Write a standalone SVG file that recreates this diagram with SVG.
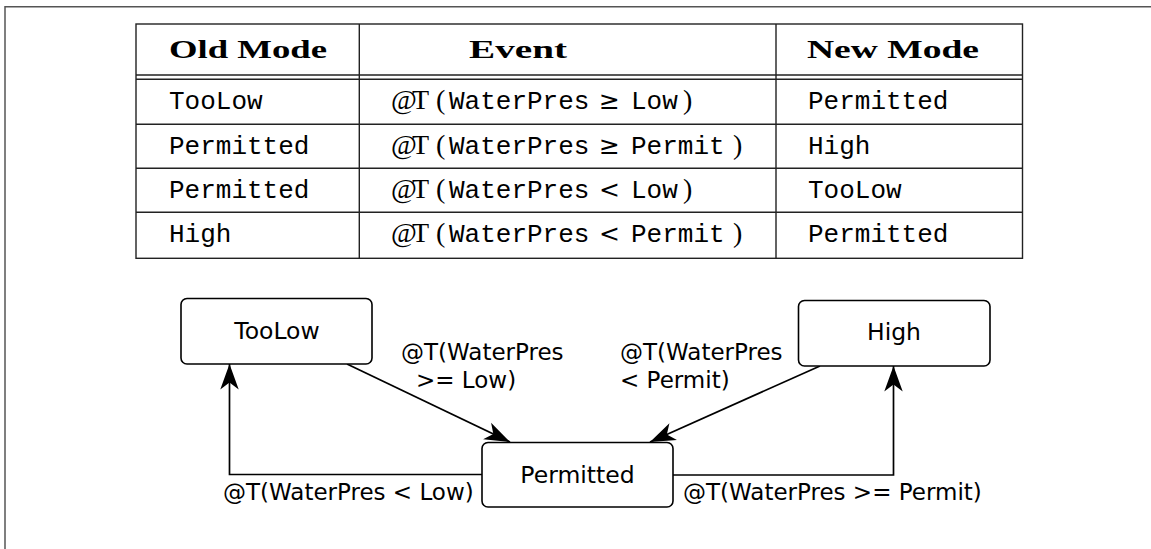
<svg xmlns="http://www.w3.org/2000/svg" width="1151" height="549" viewBox="0 0 1151 549">
<style>
.frame{stroke:#555;stroke-width:1.5;fill:none}
.tbl{stroke:#222;stroke-width:1.4;fill:none}
.hd{font-family:"Liberation Serif",serif;font-weight:bold;font-size:26px;fill:#000}
.tt{font-family:"Liberation Mono",monospace;font-size:26px;fill:#000}
.rm{font-family:"Liberation Serif",serif;font-size:28px;fill:#000}
.op{font-family:"DejaVu Sans",sans-serif;font-size:25px;fill:#000}
.node rect{fill:#fff;stroke:#000;stroke-width:1.6}
.node text{font-family:"DejaVu Sans",sans-serif;font-size:23.5px;fill:#000;text-anchor:middle}
.lbl{font-family:"DejaVu Sans",sans-serif;font-size:23px;fill:#000}
.edge{stroke:#000;stroke-width:1.7;fill:none;marker-end:url(#arr)}
</style>
<defs>
<marker id="arr" markerUnits="userSpaceOnUse" markerWidth="30" markerHeight="24" viewBox="-24 -10 26 20" refX="0" refY="0" orient="auto">
<path d="M0,0 L-22,-8 L-16,0 L-22,8 Z" fill="#000"/>
</marker>
</defs>
<rect width="1151" height="549" fill="#fff"/>
<path class="frame" d="M5,549 V6.7 H1151"/>
<g id="table">
<rect class="tbl" x="136" y="24" width="886.5" height="234.3"/>
<path class="tbl" d="M136,75 H1022.5 M136,79.3 H1022.5 M136,124.3 H1022.5 M136,168.3 H1022.5 M136,212.3 H1022.5 M359.3,24 V258.3 M776,24 V258.3"/>
<text class="hd" x="169" y="58" textLength="158" lengthAdjust="spacingAndGlyphs">Old Mode</text>
<text class="hd" x="469" y="58" textLength="98" lengthAdjust="spacingAndGlyphs">Event</text>
<text class="hd" x="807" y="58" textLength="172" lengthAdjust="spacingAndGlyphs">New Mode</text>
<text class="tt" x="169" y="109">TooLow</text>
<text class="tt" x="169" y="153.5">Permitted</text>
<text class="tt" x="169" y="197.5">Permitted</text>
<text class="tt" x="169" y="242">High</text>
<text class="tt" x="808" y="109">Permitted</text>
<text class="tt" x="808" y="153.5">High</text>
<text class="tt" x="808" y="197.5">TooLow</text>
<text class="tt" x="808" y="242">Permitted</text>
<text y="109"><tspan class="rm" x="391 412 436">@T(</tspan><tspan class="tt" x="449">WaterPres</tspan><tspan class="op" x="599">≥</tspan><tspan class="tt" x="631">Low</tspan><tspan class="rm" x="683">)</tspan></text>
<text y="153.5"><tspan class="rm" x="391 412 436">@T(</tspan><tspan class="tt" x="449">WaterPres</tspan><tspan class="op" x="599">≥</tspan><tspan class="tt" x="631">Permit</tspan><tspan class="rm" x="733">)</tspan></text>
<text y="197.5"><tspan class="rm" x="391 412 436">@T(</tspan><tspan class="tt" x="449">WaterPres</tspan><tspan class="op" x="599">&lt;</tspan><tspan class="tt" x="631">Low</tspan><tspan class="rm" x="683">)</tspan></text>
<text y="242"><tspan class="rm" x="391 412 436">@T(</tspan><tspan class="tt" x="449">WaterPres</tspan><tspan class="op" x="599">&lt;</tspan><tspan class="tt" x="631">Permit</tspan><tspan class="rm" x="733">)</tspan></text>
</g>
<g id="connectors">
<path class="edge" d="M347,364 L510,442"/>
<path class="edge" d="M820,366 L650,442"/>
<path class="edge" d="M482,474.5 H229.5 V364"/>
<path class="edge" d="M673,475 H893.5 V366"/>
<text class="lbl" x="401" y="360">@T(WaterPres</text>
<text class="lbl" x="416" y="388">&gt;= Low)</text>
<text class="lbl" x="620" y="360">@T(WaterPres</text>
<text class="lbl" x="620" y="388">&lt; Permit)</text>
<text class="lbl" x="223" y="500">@T(WaterPres &lt; Low)</text>
<text class="lbl" x="683" y="500">@T(WaterPres &gt;= Permit)</text>
</g>
<g id="node-toolow" class="node">
<rect x="181" y="298.5" width="191" height="65.5" rx="6"/>
<text x="277" y="339">TooLow</text>
</g>
<g id="node-high" class="node">
<rect x="798.5" y="300.5" width="191.5" height="65.5" rx="6"/>
<text x="894" y="340">High</text>
</g>
<g id="node-permitted" class="node">
<rect x="482" y="442.5" width="191" height="64.5" rx="6"/>
<text x="577.5" y="483">Permitted</text>
</g>
</svg>
